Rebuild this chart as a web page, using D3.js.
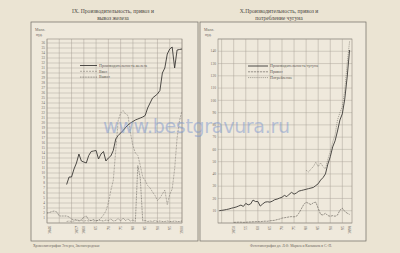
<!DOCTYPE html>
<html>
<head>
<meta charset="utf-8">
<script src="https://cdn.jsdelivr.net/npm/d3@7"></script>
<style>
  body { margin: 0; background: #ebe4d3; }
  svg { display: block; }
</style>
</head>
<body>
<div class="chart"></div>
<script>
// IX. iron: production, import, export (mill. pood)
var ironProdStart = 1853;
var ironProd = [7.7, 9.2, 9.2, 10.8, 12.0, 13.8, 12.4, 12.2, 12.0, 13.5, 14.3, 14.4, 14.5, 12.8, 13.8, 14.3,
  12.4, 13.0, 13.4, 14.5, 16.8, 17.5, 18.0, 18.5, 19.1, 19.6, 20.0, 20.3, 20.6, 20.8, 21.0, 21.2, 21.5,
  23.0, 24.0, 25.0, 25.4, 25.8, 26.5, 30.0, 31.0, 33.8, 34.8, 35.2, 31.0, 34.6, 34.7, 34.8];
var ironImportStart = 1853;
var ironImport = [0.3, 0.4, 0.3, 0.4, 0.5, 0.4, 0.5, 0.4, 0.5, 0.4, 0.5, 0.4, 0.5,
  0.5, 1.0, 1.6, 2.4, 4.0, 6.5, 8.5, 14.5, 20.5, 22.0, 22.5, 21.8, 21.5, 18.0, 15.5, 14.0, 13.5, 11.5,
  9.2, 8.5, 7.5, 7.0, 6.2, 5.5, 4.5, 5.0, 5.8, 6.6, 3.7, 5.7, 6.8, 10.8, 17.0, 20.5, 22.4];
var ironExportStart = 1845;
var ironExport = [2.0, 2.1, 2.3, 2.4, 2.2, 1.4, 1.4, 1.4, 1.4, 1.2, 0.8, 0.6, 0.7, 0.5, 0.6, 1.2, 1.4,
  0.6, 0.5, 0.7, 0.4, 0.6, 0.5, 0.4, 0.6, 0.5, 0.8, 0.4, 0.5, 0.9, 0.4, 1.0, 0.5, 0.8, 0.4, 0.6, 0.3,
  11.5, 9.0, 0.4, 0.5, 0.3, 0.4, 0.3, 0.5, 0.3, 0.4, 0.3, 0.3, 0.4, 0.3, 0.3, 0.4, 0.3, 0.3, 0.4];
var ironYTicks = d3.range(1, 37);
var ironXTicks = [1846, 1857, 1860, 1865, 1870, 1875, 1880, 1885, 1890, 1895, 1900];
var ironXLabels = ["1846", "1857", "1860", "65", "70", "75", "80", "85", "90", "95", "1900"];
var ironLegend = ["Производительность железа", "Ввоз", "Вывоз"];

// X. pig iron: production, import, consumption (mill. pood)
var pigProdStart = 1844;
var pigProd = [10.0, 10.3, 10.6, 11.0, 11.4, 12.0, 12.5, 13.0, 13.8, 14.6, 13.5, 16.0, 14.8, 15.5, 18.7,
  17.5, 17.5, 13.8, 15.5, 17.0, 17.3, 17.0, 17.8, 19.0, 19.5, 20.3, 21.0, 22.5, 21.5, 23.5, 25.0, 23.5,
  24.5, 26.0, 26.5, 27.0, 27.5, 28.0, 28.5, 29.0, 30.5, 32.0, 35.0, 37.0, 40.0, 48.0, 54.0, 62.0, 67.0,
  75.0, 84.0, 89.0, 101.0, 119.0, 141.0];
var pigImportStart = 1850;
var pigImport = [0.5, 0.6, 0.7, 0.7, 0.5, 0.6, 0.8, 0.9, 1.0, 1.1, 1.2, 1.0, 1.3, 1.5, 1.4, 1.8, 2.0,
  2.2, 2.8, 3.2, 4.0, 4.3, 4.6, 5.0, 5.2, 5.0, 5.5, 8.0, 11.5, 15.0, 17.0, 16.0, 15.0, 16.5, 17.0, 12.0,
  7.0, 6.5, 8.0, 6.0, 5.5, 6.0, 5.5, 6.5, 10.5, 12.0, 9.5, 8.0, 7.0];
var pigConsStart = 1880;
var pigCons = [43, 41.5, 44, 46, 49.5, 46, 49, 46, 44, 52, 58, 66, 72, 84, 90, 95, 108, 130, 148];
var pigYTicks = [10, 20, 30, 40, 50, 60, 70, 80, 90, 100, 110, 120, 130, 140];
var pigXTicks = [1850, 1855, 1860, 1865, 1870, 1875, 1880, 1885, 1890, 1895, 1898];
var pigXLabels = ["1850", "55", "60", "65", "70", "75", "80", "85", "90", "95", "1898"];
var pigLegend = ["Производительность чугуна", "Привоз", "Потребление"];

var svgWidth = 400;
var svgHeight = 253;

var svg = d3.select(".chart")
  .append("svg")
  .attr("width", svgWidth)
  .attr("height", svgHeight);

var serif = "'Liberation Serif', 'DejaVu Serif', serif";
var gridColor = "#aaa398";
var inkColor = "#3b3935";

function toPoints(start, values) {
  return values.map(function(v, i) { return { year: start + i, value: v }; });
}

function drawPanel(p) {
  var g = svg.append("g");

  // frame
  g.append("rect")
    .attr("x", p.frame[0]).attr("y", p.frame[1])
    .attr("width", p.frame[2]).attr("height", p.frame[3])
    .attr("fill", "#efe9dc")
    .attr("stroke", "#6e6a63")
    .attr("stroke-width", 0.7);

  var x = d3.scaleLinear().domain(p.xDomain).range(p.xRange);
  var y = d3.scaleLinear().domain(p.yDomain).range([223, 39]);

  // grid
  g.append("g").selectAll("line")
    .data(p.hGrid)
    .enter()
    .append("line")
    .attr("x1", x(p.xDomain[0])).attr("x2", x(p.xDomain[1]))
    .attr("y1", d => y(d)).attr("y2", d => y(d))
    .attr("stroke", gridColor)
    .attr("stroke-width", 0.45);

  g.append("g").selectAll("line")
    .data(p.vGrid)
    .enter()
    .append("line")
    .attr("x1", d => x(d)).attr("x2", d => x(d))
    .attr("y1", y(p.yDomain[0])).attr("y2", y(p.yDomain[1]))
    .attr("stroke", gridColor)
    .attr("stroke-width", 0.5);

  // plot border
  g.append("rect")
    .attr("x", x(p.xDomain[0])).attr("y", y(p.yDomain[1]))
    .attr("width", x(p.xDomain[1]) - x(p.xDomain[0]))
    .attr("height", y(p.yDomain[0]) - y(p.yDomain[1]))
    .attr("fill", "none")
    .attr("stroke", "#8d877d")
    .attr("stroke-width", 0.6);

  // y labels
  g.append("g").selectAll("text")
    .data(p.yTicks)
    .enter()
    .append("text")
    .attr("x", x(p.xDomain[0]) - 2)
    .attr("y", d => y(d) + 1.2)
    .attr("text-anchor", "end")
    .attr("font-family", serif)
    .attr("font-size", p.yFont)
    .attr("fill", "#6b665e")
    .text(d => d);

  // x labels (vertical)
  g.append("g").selectAll("text")
    .data(p.xTicks)
    .enter()
    .append("text")
    .attr("transform", d => `translate(${x(d) + 1.3}, 226) rotate(-90)`)
    .attr("text-anchor", "end")
    .attr("font-family", serif)
    .attr("font-size", 4)
    .attr("fill", "#5f5a52")
    .text((d, i) => p.xLabels[i]);

  // units
  g.append("text")
    .attr("x", p.frame[0] + 4).attr("y", 30.5)
    .attr("font-family", serif).attr("font-size", 3.8).attr("fill", "#6b665e")
    .text("Милл.");
  g.append("text")
    .attr("x", p.frame[0] + 5).attr("y", 36)
    .attr("font-family", serif).attr("font-size", 3.8).attr("fill", "#6b665e")
    .text("пуд.");

  // title
  p.title.forEach(function(t, i) {
    svg.append("text")
      .attr("x", p.titleX).attr("y", 13 + i * 6.5)
      .attr("text-anchor", "middle")
      .attr("font-family", serif)
      .attr("font-size", 5.6)
      .attr("fill", "#4a4640")
      .text(t);
  });

  // series
  var line = d3.line()
    .x(d => x(d.year))
    .y(d => y(d.value));

  p.series.forEach(function(s) {
    g.append("path")
      .datum(toPoints(s.start, s.values))
      .attr("fill", "none")
      .attr("stroke", s.color)
      .attr("stroke-width", s.width)
      .attr("stroke-dasharray", s.dash)
      .attr("stroke-linejoin", "round")
      .attr("d", line);
  });

  // legend
  p.series.forEach(function(s, i) {
    var ly = p.legend[1] + i * 5.8;
    g.append("line")
      .attr("x1", p.legend[0]).attr("x2", p.legend[0] + p.legend[2])
      .attr("y1", ly).attr("y2", ly)
      .attr("stroke", s.color)
      .attr("stroke-width", s.width)
      .attr("stroke-dasharray", s.dash);
    g.append("text")
      .attr("x", p.legend[0] + p.legend[2] + 2)
      .attr("y", ly + 1.3)
      .attr("font-family", serif)
      .attr("font-size", 4)
      .attr("fill", "#5a564f")
      .text(p.legendText[i]);
  });

  // caption
  svg.append("text")
    .attr("x", p.caption[0]).attr("y", 246.5)
    .attr("font-family", serif)
    .attr("font-size", 3.6)
    .attr("fill", "#6b665e")
    .text(p.caption[1]);
}

drawPanel({
  frame: [31, 22, 167, 219],
  xDomain: [1845, 1900], xRange: [47, 182],
  yDomain: [0, 36.8],
  hGrid: d3.range(0, 37),
  vGrid: d3.range(1845, 1901, 5),
  yTicks: ironYTicks, yFont: 3.4,
  xTicks: ironXTicks, xLabels: ironXLabels,
  title: ["IX. Производительность, привоз и", "вывоз железа"], titleX: 113,
  legend: [80, 65.5, 17], legendText: ironLegend,
  caption: [33, "Хромолитография Эггерса, Звенигородская"],
  series: [
    { start: ironProdStart, values: ironProd, color: inkColor, width: 0.9, dash: null },
    { start: ironImportStart, values: ironImport, color: "#7d7870", width: 0.55, dash: "2,1" },
    { start: ironExportStart, values: ironExport, color: "#4e4a44", width: 0.6, dash: "0.9,0.7" }
  ]
});

drawPanel({
  frame: [200, 22, 166, 219],
  xDomain: [1843.5, 1899], xRange: [218, 352],
  yDomain: [0, 150],
  hGrid: d3.range(0, 151, 10),
  vGrid: d3.range(1845, 1899, 5),
  yTicks: pigYTicks, yFont: 3.6,
  xTicks: pigXTicks, xLabels: pigXLabels,
  title: ["X.Производительность, привоз и", "потребление чугуна"], titleX: 279,
  legend: [248, 66, 20], legendText: pigLegend,
  caption: [250, "Фототипография дл. Л.Ф. Маркса и Кильмана в С.-П."],
  series: [
    { start: pigProdStart, values: pigProd, color: inkColor, width: 0.9, dash: null },
    { start: pigImportStart, values: pigImport, color: "#5a564f", width: 0.6, dash: "2.2,0.8" },
    { start: pigConsStart, values: pigCons, color: "#6a665e", width: 0.55, dash: "1.2,0.9" }
  ]
});

// watermark of the scan
svg.append("text")
  .attr("x", 103).attr("y", 133)
  .attr("font-family", "'DejaVu Sans', sans-serif")
  .attr("font-size", 19)
  .attr("textLength", 187)
  .attr("fill", "#7c96cf")
  .attr("fill-opacity", 0.5)
  .text("www.bestgravura.ru");
</script>
</body>
</html>
